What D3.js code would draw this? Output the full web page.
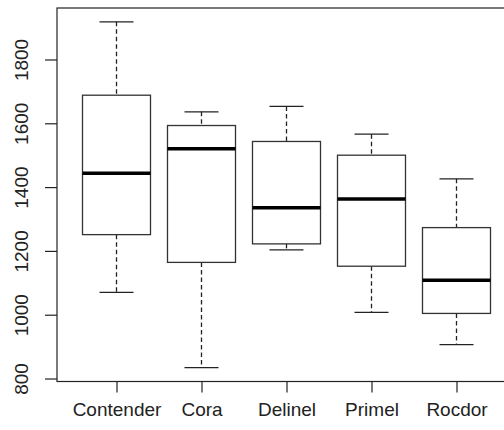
<!DOCTYPE html>
<html>
<head>
<meta charset="utf-8">
<script src="https://cdn.jsdelivr.net/npm/d3@7"></script>
<style>
  body { margin: 0; background: #fff; }
  text { font-family: "Liberation Sans", Arial, sans-serif; fill: #222; }
</style>
</head>
<body>
<svg id="chart" width="504" height="430"></svg>
<script>
var varieties = ["Contender", "Cora", "Delinel", "Primel", "Rocdor"];
var lowerWhisker = [1070, 834, 1203, 1007, 906];
var q1 = [1251, 1164, 1222, 1152, 1004];
var median = [1443, 1520, 1335, 1363, 1108];
var q3 = [1688, 1593, 1543, 1500, 1273];
var upperWhisker = [1918, 1636, 1653, 1566, 1426];
var yTicks = [800, 1000, 1200, 1400, 1600, 1800];

var svg = d3.select("#chart"),
    margin = {top: 8, left: 57, bottom: 48.5},
    height = svg.attr("height") - margin.top - margin.bottom;

var data = varieties.map(function(v, i) {
  return {name: v, i: i + 1, lo: lowerWhisker[i], q1: q1[i], med: median[i], q3: q3[i], hi: upperWhisker[i]};
});

// R-style 4% padding on both axes
var ymin = d3.min(lowerWhisker), ymax = d3.max(upperWhisker), pad = (ymax - ymin) * 0.04;
var y = d3.scaleLinear().domain([ymin - pad, ymax + pad]).range([height, 0]);
var x = d3.scaleLinear().domain([0.3, 5.7]).range([0, 459]);
var bw = 0.8 * (x(2) - x(1));

var g = svg.append("g").attr("transform", "translate(" + margin.left + "," + margin.top + ")");

var box = g.selectAll(".box").data(data).enter().append("g").attr("class", "box");

box.append("line")
    .attr("x1", function(d) { return x(d.i); }).attr("x2", function(d) { return x(d.i); })
    .attr("y1", function(d) { return y(d.hi); }).attr("y2", function(d) { return y(d.q3); })
    .attr("stroke", "#222").attr("stroke-width", 1.3).attr("stroke-dasharray", "4.5,3");
box.append("line")
    .attr("x1", function(d) { return x(d.i); }).attr("x2", function(d) { return x(d.i); })
    .attr("y1", function(d) { return y(d.q1); }).attr("y2", function(d) { return y(d.lo); })
    .attr("stroke", "#222").attr("stroke-width", 1.3).attr("stroke-dasharray", "4.5,3");
["hi", "lo"].forEach(function(k) {
  box.append("line")
      .attr("x1", function(d) { return x(d.i) - bw / 4; }).attr("x2", function(d) { return x(d.i) + bw / 4; })
      .attr("y1", function(d) { return y(d[k]); }).attr("y2", function(d) { return y(d[k]); })
      .attr("stroke", "#222").attr("stroke-width", 1.3);
});
box.append("rect")
    .attr("x", function(d) { return x(d.i) - bw / 2; })
    .attr("y", function(d) { return y(d.q3); })
    .attr("width", bw)
    .attr("height", function(d) { return y(d.q1) - y(d.q3); })
    .attr("fill", "#fff").attr("stroke", "#333").attr("stroke-width", 1.3);
box.append("line")
    .attr("x1", function(d) { return x(d.i) - bw / 2; }).attr("x2", function(d) { return x(d.i) + bw / 2; })
    .attr("y1", function(d) { return y(d.med); }).attr("y2", function(d) { return y(d.med); })
    .attr("stroke", "#000").attr("stroke-width", 3.5);

// frame (right edge falls outside the window)
g.append("rect")
    .attr("x", 0).attr("y", 0).attr("width", 459).attr("height", height)
    .attr("fill", "none").attr("stroke", "#222").attr("stroke-width", 1.2);

var yAxis = g.append("g")
    .call(d3.axisLeft(y).tickValues(yTicks).tickSize(12).tickPadding(4).tickFormat(d3.format("d")));
yAxis.select(".domain").remove();
yAxis.selectAll("line").attr("stroke", "#222").attr("stroke-width", 1.2);
yAxis.selectAll("text")
    .attr("transform", "rotate(-90)")
    .attr("x", 0).attr("y", -29).attr("dy", 0)
    .style("text-anchor", "middle")
    .style("font-size", "19px");

var xAxis = g.append("g")
    .attr("transform", "translate(0," + height + ")")
    .call(d3.axisBottom(x).tickValues(data.map(function(d) { return d.i; }))
      .tickSize(11).tickPadding(0).tickFormat(function(d) { return varieties[d - 1]; }));
xAxis.select(".domain").remove();
xAxis.selectAll("line").attr("stroke", "#222").attr("stroke-width", 1.2);
xAxis.selectAll("text").attr("y", 34.5).attr("dy", 0).style("font-size", "19px");
</script>
</body>
</html>
